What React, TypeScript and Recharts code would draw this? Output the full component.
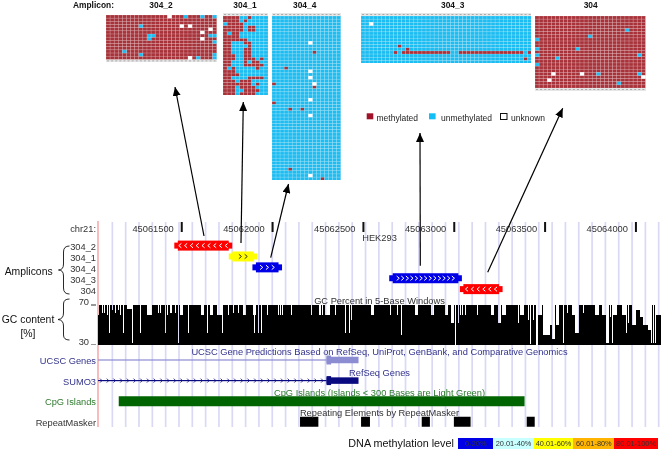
import {
  Bar,
  BarChart,
  LineChart,
  ReferenceLine,
  Scatter,
  ScatterChart,
  XAxis,
  YAxis,
} from "recharts";

const FONT = '"Liberation Sans", Arial, sans-serif';

// M = methylated, U = unmethylated, N = unknown
const amplicon304_2 = [
  "MMMMMMMMMMMMMMMNMMMUMMMUMMU",
  "MMMMMMMMMMMMMMMMMMMMMMMMMMM",
  "MMMMMMMMMMMMMMMMMMMMMMMMMMM",
  "MMMMMMMMUMMMMMMMMMNMNMMMMMM",
  "MMMMMMMMMMMMMMMMMMMMMMMMMNM",
  "MMMMMMMMMMMMMMMMMMMMMMMNMMM",
  "MMMMMMMMMMUUMMMMMMMMMMMMMUU",
  "MMMMMMMMMMUMMMMMMMMMMMMNMMM",
  "MMMMMMMMMMMMMMMMMMMMMMMMMMU",
  "MMMMMMMMMMMMMMMMMMMMMMMMMMM",
  "MMMMMMMMMMMMMMMMMMMMMMMMMMM",
  "MMMMUMMMMMMMMMMMMMMMMMMMMMM",
  "MMMMMMMMUMMMMMMMMMMMMMMMMMU",
  "MMMMMMMMMMMMMMMMMMMMNMUMMMU",
];

const amplicon304_1 = [
  "MMMMUUMUUUU",
  "MMMMUMUUUUU",
  "UMMMMUUUUUU",
  "MMMMMUMMUUU",
  "MMMMMUMMUUU",
  "MUMMUUUUUUU",
  "MMMMUUUUUUU",
  "MMMMMMUUUUU",
  "MMUUUMMUUUU",
  "MMUUUUMUUUU",
  "MMUUUMMUUUU",
  "MMUUUMMUUUU",
  "MMMUUMMUUUU",
  "MMMUUMMMUMU",
  "MMUUUMUMMUU",
  "MMUUUMMMMMU",
  "MUMUUUUUMUU",
  "MMMUUUUUUUU",
  "MMMMUUUUUUU",
  "MMUUUUMMMMU",
  "MMMUMMMUUUU",
  "MMMMMMMUMUU",
  "MMMUMMMMUUU",
  "MMMUUMMMMUU",
  "MMMUMMMMUUU",
];

const amplicon304_4 = [
  "UUUUUUUUUUUUUUUUU",
  "UUUUUUUUUUUUUUUUU",
  "UUUUUUUUUUUUUUUUU",
  "UUUUUUUUUUUUUUUUU",
  "UUUUUUUUUUUUUUUUU",
  "UUUUUUUUUUUUUUUUU",
  "UUUUUUUUUUUUUUUUU",
  "UUUUUUUUUUUUUUUUU",
  "UUUUUUUUUNUUUUUUU",
  "UUUUUUUUUUUUUUUUU",
  "UUUUUUUUUUUUUUUUU",
  "UUUUUUUUUUMUUUUUU",
  "UUUUUUUUUUUUUUUUU",
  "UUUUUUUUUUUUUUUUU",
  "UUUUUUUUUUUUUUUUU",
  "UUUUUUUUUUUUUUUUU",
  "UUUMUUUUUUUUUUUUU",
  "UUUUUUUUUNUUUUUUU",
  "UUUUUUUUUUUUUUUUU",
  "UUUUUUUUUNUUUUUUU",
  "UUUUUUUUUUUUUUUUU",
  "MUUUUUUUUUNUUUUUU",
  "UUUUUUUUUUMUUUUUU",
  "UUUUUUUUUUUUUUUUU",
  "UUUUUUUUUUUUUUUUU",
  "UUUUUUUUUUUUUUUUU",
  "UUUUUUUUUNUUUUUUU",
  "MUUUUUUUUUUUUUUUU",
  "UUUUUUUUUUUUUUUUU",
  "UUUUMUUMUUUUUUUUU",
  "UUUUUUUUUUUUUUUUU",
  "UUUUUUUUUNUUUUUUU",
  "UUUUUUUUUUUUUUUUU",
  "UUUUUUUUUUUUUUUUU",
  "UUUUUUUUUUUUUUUUU",
  "UUUUUUUUUUUUUUUUU",
  "UUUUUUUUUUUUUUUUU",
  "UUUUUUUUUUUUUUUUU",
  "UUUUUUUUUUUUUUUUU",
  "UUUUUUUUUUUUUUUUU",
  "UUUUUUUUUUUUUUUUU",
  "UUUUUUUUUUUUUUUUU",
  "UUUUUUUUUUUUUUUUU",
  "UUUUUUUUUUUUUUUUU",
  "UUUUUUUUUUUUUUUUU",
  "UUUUUUUUUUUUUUUUU",
  "UUUUUUUUUUUUUUUUU",
  "UUUUUUUUUUUUUUUUU",
  "UUUUMUUUUUUUUUUUU",
  "UUUUUUUUUUUUUUUUU",
  "UUUUUUUUUNUUUUUUU",
  "UUUUUUUUUUUUMUUUU",
];

const amplicon304_3 = [
  "UUUUUUUUUUUUUUUUUUUUUUUUUUUUUUUUUUUUUUUUUU",
  "UUUUUUUUUUUUUUUUUUUUUUUUUUUUUUUUUUUUUUUUUU",
  "UUNUUUUUUUUUUUUUUUUUUUUUUUUUUUUUUUUUUUUUUU",
  "UUUUUUUUUUUUUUUUUUUUUUUUUUUUUUUUUUUUUUUUUU",
  "UUUUUUUUUUUUUUUUUUUUUUUUUUUUUUUUUUUUUUUUUU",
  "UUUUUUUUUUUUUUUUUUUUUUUUUUUUUUUUUUUUUUUUUU",
  "UUUUUUUUUUUUUUUUUUUUUUUUUUUUUUUUUUUUUUUUUU",
  "UUUUUUUUUUUUUUUUUUUUUUUUUUUUUUUUUUUUUUUUUU",
  "UUUUUUUUUUUUUUUUUUUUUUUUUUUUUUUUUUUUUUUUUU",
  "UUUUUUUUUMUUUUUUUUUUUUUUUUUUUUUUUUUUUUUUUU",
  "UUUUUUUUUUUMUUUUUUUUUUUUUUUUUUUUUUUUUUUUUU",
  "UUUUUUUUMUMMMMMMMMMMMMUUMMMMMMMMMMMMMMMMUM",
  "UUUUUUUUUUUUUUUUUUUUUUUUUUUUUUUUUUUUUUUUUU",
  "UUUUUUUUUUUUUUUUUUUUUUUUUUUUUUUUUUUUUUUUMU",
  "UUUUUUUUUUUUUUUUUUUUUUUUUUUUUUUUUUUUUUUUUU",
];

const amplicon304 = [
  "MMMMMMMMMMMMMMMMMMMMMMMMMMM",
  "MMMMMMMMMMMMMMMMMMMMMMMMMMM",
  "MMMMMMMMMMMMMMMMMMMMMMMMMMM",
  "MMMMMMMMMMMMMMMMMMMMMMMMMMM",
  "MMMMMMMMMMMMMMMMMMMMMMUMMMM",
  "MMMMMMMMMMMMMMMMMMMMMMMMMMM",
  "MMMMMMMMMMMMMUMMMMMMMMMMMMM",
  "UMMMMMMMMMMMMMMMMMMMMMMMMMM",
  "MMMMMMMMMMMMMMMMMMMMMMMMMMM",
  "MMMMMMMMMMMMMMMMMMMMMMMMMMM",
  "UMMMMMMMMMUMMMMMMMMMMMMMMMM",
  "MMMMMMMMMMMMMMMMMMMMMMMMMMM",
  "UMMMMMMMMMMMMMMMMMMMMMMMMUM",
  "MMMMMUMMMMMMMMMMMMMMMMMMMMM",
  "MMMMMMMMMMMMMMMMMMMMMMMMMMM",
  "UMMMMMMMMMMMMMMMMMMMMMMMMMM",
  "MMMMMMMMMMMMMMMMMMMMMMMMMMM",
  "MMMMMMMMMMMMMMMMMMMMMMMMMMM",
  "MMMMNMMMMMMNMMMUMMMMMMMMMUM",
  "MMMMMMMMMMMMMMMMMMMMMMMMMMN",
  "MMMNMMMMMMMMMMMMMMMMMMMMMMM",
  "MMMMMMMMMMMMMMMMMMMMUMMMMMM",
  "MMMMMMMMMMMMMMMMMMMMMMMMMMM",
];

const genomeTicks = [45061500, 45062000, 45062500, 45063000, 45063500, 45064000];
const genomeDomain = [45061039, 45064138];
const guideStart = 45061118;
const guideStep = 73.35;

const ampliconNames = ["304_2", "304_1", "304_4", "304_3", "304"];
const ampliconRanges = [
  [45061459, 45061778],
  [45061759, 45061916],
  [45061889, 45062052],
  [45062642, 45063042],
  [45063031, 45063266],
];
const ampliconColors = ["#ff0000", "#ffff00", "#0000e6", "#0000e6", "#ff0000"];
const ampliconStrands = [-1, 1, 1, 1, -1];
const ampliconArrows = [9, 2, 3, 13, 6];

// first window, last window, value; every other window sits at the 70 ceiling
const gcDips = [
  [0, 0, 60], [4, 4, 62], [6, 6, 62], [9, 9, 60], [11, 11, 42], [14, 14, 65], [17, 17, 62],
  [20, 20, 65], [22, 22, 60], [25, 25, 42], [29, 33, 66], [34, 34, 32], [42, 42, 42],
  [49, 53, 60], [60, 60, 62], [62, 62, 62], [67, 67, 42], [69, 69, 60], [72, 73, 62],
  [77, 77, 62], [80, 80, 32], [82, 84, 60], [90, 90, 42], [103, 105, 60], [109, 109, 42],
  [112, 114, 60], [119, 123, 60], [124, 124, 42], [130, 130, 60], [135, 135, 62],
  [140, 140, 62], [145, 147, 60], [155, 155, 60], [156, 156, 42], [157, 157, 60],
  [160, 160, 42], [163, 163, 42], [169, 169, 60], [180, 180, 60], [182, 182, 60],
  [184, 184, 60], [193, 193, 60], [213, 213, 60], [221, 222, 60], [224, 224, 60],
  [227, 231, 60], [237, 237, 60], [247, 247, 42], [251, 251, 42], [253, 253, 55],
  [273, 275, 60], [292, 292, 60], [299, 299, 60], [303, 303, 40], [317, 319, 60],
  [333, 335, 60], [347, 349, 60], [353, 355, 52], [357, 357, 30], [360, 360, 52],
  [362, 362, 60], [364, 364, 60], [367, 367, 60], [379, 379, 60], [393, 395, 60],
  [400, 402, 52], [404, 407, 60], [420, 420, 52], [422, 425, 60], [430, 430, 55],
  [432, 432, 31], [435, 435, 55], [438, 439, 30], [440, 443, 60], [445, 451, 40],
  [452, 453, 50], [454, 456, 36], [458, 460, 50], [465, 465, 32], [469, 469, 62],
  [474, 476, 60], [477, 480, 42], [485, 485, 62], [497, 500, 60], [504, 507, 60],
  [508, 510, 32], [512, 512, 58], [514, 514, 32], [515, 518, 60], [524, 527, 60],
  [528, 528, 42], [530, 530, 52], [534, 537, 50], [538, 541, 65], [542, 544, 58],
  [545, 549, 50], [550, 552, 45], [553, 553, 32], [555, 555, 32], [557, 557, 32],
  [558, 562, 60],
];
const gcWindowCount = 563;
const gcTicks = [30, 70];

const trackNames = ["UCSC Genes", "SUMO3", "CpG Islands", "RepeatMasker"];
const trackLabelColors = ["#33338c", "#33338c", "#2f7a2f", "#333333"];
const geneIntrons = [[45061039, 45062297], [45061039, 45062297]];
const geneThickExons = [[45062297, 45062322], [45062297, 45062322]];
const geneExons = [[45062297, 45062473], [45062297, 45062473]];
const geneColors = ["#8c8cd2", "#0a0a80"];
const cpgIsland = [45061153, 45063387];
const repeatElements = [
  [45062151, 45062252],
  [45062487, 45062536],
  [45062821, 45062866],
  [45062998, 45063090],
  [45063399, 45063443],
];

const methylationLevels = ["0-20%", "20.01-40%", "40.01-60%", "60.01-80%", "80.01-100%"];
const methylationColors = ["#0000e6", "#c8ffff", "#ffff00", "#ffb400", "#ff0000"];
const methylationWidths = [35, 40.5, 39.5, 41, 43.5];

const panelTitles = [
  { name: "304_2", x: 161 },
  { name: "304_1", x: 245 },
  { name: "304_4", x: 304.7 },
  { name: "304_3", x: 452.7 },
  { name: "304", x: 590.7 },
];

const STATUS_COLORS: Record<string, string> = {
  M: "#a8323a",
  U: "#1cbdf2",
  N: "#ffffff",
};

const guides: number[] = [];
for (let g = guideStart; g < genomeDomain[1]; g += guideStep) guides.push(g);
const guideRows = guides.map((x) => ({ x, y: 0 }));

const ampliconRows = ampliconNames.map((name, i) => ({
  name,
  range: ampliconRanges[i],
  color: ampliconColors[i],
  strand: ampliconStrands[i],
  arrows: ampliconArrows[i],
}));

const gcRows = Array.from({ length: gcWindowCount }, (_, i) => {
  const dip = gcDips.find((d) => i >= d[0] && i <= d[1]);
  return { window: i, gc: dip ? dip[2] : 70 };
});

const trackRows = trackNames.map((track, i) => ({
  track,
  color: geneColors[i],
  hatched: i === 1,
  intron: geneIntrons[i],
  exon: geneExons[i],
  thick: geneThickExons[i],
  cpg: i === 2 ? cpgIsland : undefined,
  r0: i === 3 ? repeatElements[0] : undefined,
  r1: i === 3 ? repeatElements[1] : undefined,
  r2: i === 3 ? repeatElements[2] : undefined,
  r3: i === 3 ? repeatElements[3] : undefined,
  r4: i === 3 ? repeatElements[4] : undefined,
}));

function Heatmap(props: {
  rows: string[];
  left: number;
  top: number;
  width: number;
  height: number;
  strip: "top" | "bottom";
}) {
  const { rows, left, top, width, height, strip } = props;
  const cols = rows[0].length;
  const cellW = width / cols;
  const cellH = height / rows.length;
  const cells = (status: string) =>
    rows.flatMap((row, y) =>
      row
        .split("")
        .map((c, x) => ({ c, x: x + 0.5, y: y + 0.5 }))
        .filter((d) => d.c === status),
    );
  const columns = Array.from({ length: cols }, (_, i) => i + 0.5);
  const cellShape = (p: any) => (
    <rect
      x={p.cx - cellW / 2}
      y={p.cy - cellH / 2}
      width={cellW}
      height={cellH}
      fill={p.fill}
      stroke="#ffffff"
      strokeOpacity={0.3}
      strokeWidth={0.5}
    />
  );
  const stripTick = (p: any) => (
    <rect x={p.x - 1} y={strip === "top" ? 1 : height + 1} width={2} height={1} fill="#aaaaaa" />
  );
  return (
    <div
      style={{
        position: "absolute",
        left,
        top: strip === "top" ? top - 3 : top,
        width,
        height: height + 3,
        background: "#e6e6e6",
      }}
    >
      <ScatterChart
        width={width}
        height={height + 3}
        margin={{ top: 0, right: 0, bottom: 0, left: 0 }}
      >
        <XAxis
          type="number"
          dataKey="x"
          domain={[0, cols]}
          orientation={strip}
          height={3}
          ticks={columns}
          interval={0}
          axisLine={false}
          tickLine={false}
          tick={stripTick}
        />
        <YAxis type="number" dataKey="y" domain={[0, rows.length]} reversed hide />
        {["M", "U", "N"].map((status) => (
          <Scatter
            key={status}
            data={cells(status)}
            fill={STATUS_COLORS[status]}
            shape={cellShape}
            isAnimationActive={false}
          />
        ))}
      </ScatterChart>
    </div>
  );
}

function AmpliconShape(p: any) {
  const { x, y, width, height, payload } = p;
  const cy = y + height / 2;
  const cap = 3.5;
  const spacing = width > 60 ? (width - 12) / (payload.arrows + 0.2) : 5.8;
  const start = x + width / 2 - (spacing * (payload.arrows - 1)) / 2;
  const ink = payload.color === "#ffff00" ? "#333300" : "#ffffff";
  return (
    <g>
      <rect x={x} y={cy - 3} width={width} height={6} fill={payload.color} />
      <rect x={x + cap} y={cy - 5} width={width - cap * 2} height={10} fill={payload.color} />
      {Array.from({ length: payload.arrows }, (_, i) => {
        const ax = start + i * spacing;
        const d = payload.strand * 1.3;
        return (
          <path
            key={i}
            d={`M${ax - d} ${cy - 2.2}L${ax + d} ${cy}L${ax - d} ${cy + 2.2}`}
            fill="none"
            stroke={ink}
            strokeWidth={1}
          />
        );
      })}
    </g>
  );
}

function GenomeTick(p: any) {
  return (
    <g>
      <text x={p.x - 8} y={14} textAnchor="end" fontSize={9.3} fontFamily={FONT} fill="#333333">
        {p.payload.value}
      </text>
      <rect x={p.x - 1} y={4} width={2} height={10} fill="#111111" />
    </g>
  );
}

function GcTick(p: any) {
  return (
    <g>
      <text x={89} y={p.y - 0.5} textAnchor="end" fontSize={9.3} fontFamily={FONT} fill="#333333">
        {p.payload.value}
      </text>
      <rect x={91} y={p.y - 0.5} width={5} height={1} fill="#333333" />
    </g>
  );
}

function TrackTick(p: any) {
  const i = trackNames.indexOf(p.payload.value);
  return (
    <text
      x={96}
      y={p.y + 4}
      textAnchor="end"
      fontSize={9.3}
      fontFamily={FONT}
      fill={trackLabelColors[i]}
    >
      {p.payload.value}
    </text>
  );
}

function IntronShape(p: any) {
  const { x, y, width, height, payload } = p;
  if (!width) return null;
  const cy = y + height / 2;
  const marks: number[] = [];
  if (payload.hatched) for (let m = x + 3; m < x + width; m += 6.7) marks.push(m);
  return (
    <g>
      <rect x={x} y={cy - 0.6} width={width} height={1.2} fill={payload.color} />
      {marks.map((m) => (
        <path
          key={m}
          d={`M${m - 1} ${cy - 2}L${m + 1} ${cy}L${m - 1} ${cy + 2}`}
          fill="none"
          stroke={payload.color}
          strokeWidth={0.8}
        />
      ))}
    </g>
  );
}

function BlockShape(size: number) {
  return (p: any) => {
    const { x, y, width, height, payload } = p;
    if (!width) return null;
    const cy = y + height / 2;
    return <rect x={x} y={cy - size / 2} width={width} height={size} fill={payload.color} />;
  };
}

const textStyle = { fontFamily: FONT, fontSize: 9.3 };

function Overlay() {
  const arrows = [
    [204, 236, 175, 87],
    [241, 243, 243.3, 102],
    [270.7, 257.7, 288.5, 184],
    [420.3, 265.7, 420, 133],
    [487.7, 272.3, 562.7, 108.3],
  ];
  return (
    <svg
      width={661}
      height={450}
      style={{ position: "absolute", left: 0, top: 0, pointerEvents: "none" }}
    >
      <defs>
        <marker id="head" markerUnits="userSpaceOnUse" markerWidth={10} markerHeight={8} refX={9} refY={4} orient="auto">
          <path d="M0 0L9 4L0 8Z" fill="#000000" />
        </marker>
      </defs>
      {arrows.map((a) => (
        <line key={a[0]} x1={a[0]} y1={a[1]} x2={a[2]} y2={a[3]} stroke="#000000" strokeWidth={1.2} markerEnd="url(#head)" />
      ))}
      <text x={73} y={8} fontFamily={FONT} fontSize={8.4} fontWeight="bold" fill="#111111">
        Amplicon:
      </text>
      {panelTitles.map((t) => (
        <text key={t.name} x={t.x} y={8} textAnchor="middle" fontFamily={FONT} fontSize={8.4} fontWeight="bold" fill="#111111">
          {t.name}
        </text>
      ))}

      <rect x={366.7} y={113.3} width={6.6} height={6} fill="#a0122a" />
      <text x={376.5} y={121} fontFamily={FONT} fontSize={8.5} fill="#222222">methylated</text>
      <rect x={429} y={113.3} width={6.6} height={6} fill="#10bff5" />
      <text x={441} y={121} fontFamily={FONT} fontSize={8.5} fill="#222222">unmethylated</text>
      <rect x={500.5} y={113.5} width={6.5} height={6} fill="#ffffff" stroke="#111111" strokeWidth={1} />
      <text x={511} y={121} fontFamily={FONT} fontSize={8.5} fill="#222222">unknown</text>

      <text x={96} y={231.5} textAnchor="end" {...textStyle} fill="#333333">chr21:</text>
      <text x={379.5} y={241} textAnchor="middle" {...textStyle} fill="#333333">HEK293</text>
      <text x={379.5} y={304} textAnchor="middle" {...textStyle} fill="#333333">GC Percent in 5-Base Windows</text>
      <text x={379.5} y={354.5} textAnchor="middle" {...textStyle} fill="#33338c">
        UCSC Gene Predictions Based on RefSeq, UniProt, GenBank, and Comparative Genomics
      </text>
      <text x={379.5} y={375.5} textAnchor="middle" {...textStyle} fill="#33338c">RefSeq Genes</text>
      <text x={379.5} y={395.5} textAnchor="middle" {...textStyle} fill="#2f7a2f">
        CpG Islands (Islands {"<"} 300 Bases are Light Green)
      </text>
      <text x={379.5} y={416} textAnchor="middle" {...textStyle} fill="#333333">
        Repeating Elements by RepeatMasker
      </text>

      <text x={4.7} y={275} fontFamily={FONT} fontSize={10.4} fill="#111111">Amplicons</text>
      <text x={28} y={322.5} textAnchor="middle" fontFamily={FONT} fontSize={10.4} fill="#111111">GC content</text>
      <text x={28} y={336.5} textAnchor="middle" fontFamily={FONT} fontSize={10.4} fill="#111111">[%]</text>
      <path
        d="M69.5 246Q63.5 246 63.5 252L63.5 264Q63.5 270 58.5 270Q63.5 270 63.5 276L63.5 288Q63.5 294 69.5 294"
        fill="none"
        stroke="#111111"
        strokeWidth={0.9}
      />
      <path
        d="M69.5 299Q63.5 299 63.5 304L63.5 313Q63.5 319 58 319.5Q63.5 320 63.5 326L63.5 335Q63.5 340 69.5 340"
        fill="none"
        stroke="#111111"
        strokeWidth={0.9}
      />
      <text x={348.3} y={447} fontFamily={FONT} fontSize={10.8} fill="#111111">DNA methylation level</text>
    </svg>
  );
}

export default function App() {
  return (
    <div
      style={{
        position: "absolute",
        left: 0,
        top: 0,
        width: 661,
        height: 450,
        background: "#ffffff",
        overflow: "hidden",
        filter: "blur(0.35px)",
      }}
    >
      <Heatmap rows={amplicon304_2} left={106} top={15} width={110.7} height={44.4} strip="bottom" />
      <Heatmap rows={amplicon304_1} left={223} top={15.7} width={45} height={79.3} strip="top" />
      <Heatmap rows={amplicon304_4} left={272} top={15.7} width={68.7} height={164.3} strip="top" />
      <Heatmap rows={amplicon304_3} left={360.7} top={15.7} width={170.7} height={47.6} strip="top" />
      <Heatmap rows={amplicon304} left={535.3} top={15.7} width={110.4} height={72} strip="bottom" />

      <div style={{ position: "absolute", left: 0, top: 222 }}>
        <LineChart width={661} height={205} data={guideRows} margin={{ top: 0, right: 0, bottom: 0, left: 98 }}>
          <XAxis type="number" dataKey="x" domain={genomeDomain} allowDataOverflow hide />
          <YAxis hide dataKey="y" domain={[0, 1]} />
          {guides.map((g) => (
            <ReferenceLine key={g} x={g} stroke="#d9d9f6" strokeWidth={1.7} />
          ))}
        </LineChart>
      </div>
      <div style={{ position: "absolute", left: 97, top: 221, width: 2.4, height: 206, background: "#f9bcbc" }} />

      <div style={{ position: "absolute", left: 0, top: 218 }}>
        <BarChart
          width={661}
          height={77}
          layout="vertical"
          data={ampliconRows}
          barSize={10}
          margin={{ top: 0, right: 0, bottom: 0, left: 0 }}
        >
          <XAxis
            type="number"
            orientation="top"
            domain={genomeDomain}
            allowDataOverflow
            ticks={genomeTicks}
            interval={0}
            height={22.6}
            axisLine={false}
            tickLine={false}
            tick={GenomeTick}
          />
          <YAxis
            type="category"
            dataKey="name"
            width={98}
            interval={0}
            axisLine={false}
            tickLine={false}
            tickSize={0}
            tickMargin={2}
            tick={{ fontSize: 9.3, fontFamily: FONT, fill: "#333333", dy: 1 }}
          />
          <Bar dataKey="range" shape={AmpliconShape} isAnimationActive={false} />
        </BarChart>
      </div>

      <div style={{ position: "absolute", left: 0, top: 295 }}>
        <BarChart
          width={661}
          height={50}
          data={gcRows}
          barCategoryGap={0}
          margin={{ top: 10, right: 0, bottom: 0, left: 0 }}
        >
          <XAxis dataKey="window" hide />
          <YAxis
            type="number"
            domain={[30, 70]}
            ticks={gcTicks}
            interval={0}
            width={98}
            axisLine={false}
            tickLine={false}
            tick={GcTick}
          />
          <Bar dataKey="gc" fill="#000000" isAnimationActive={false} />
        </BarChart>
      </div>

      <div style={{ position: "absolute", left: 0, top: 349.7 }}>
        <BarChart
          width={661}
          height={82.4}
          layout="vertical"
          data={trackRows}
          barSize={10}
          barGap={-10}
          margin={{ top: 0, right: 0, bottom: 0, left: 0 }}
        >
          <XAxis type="number" domain={genomeDomain} allowDataOverflow hide />
          <YAxis
            type="category"
            dataKey="track"
            width={98}
            interval={0}
            axisLine={false}
            tickLine={false}
            tick={TrackTick}
          />
          <Bar dataKey="intron" shape={IntronShape} isAnimationActive={false} />
          <Bar dataKey="exon" shape={BlockShape(6.5)} isAnimationActive={false} />
          <Bar dataKey="thick" shape={BlockShape(9)} isAnimationActive={false} />
          <Bar dataKey="cpg" fill="#006400" isAnimationActive={false} />
          {["r0", "r1", "r2", "r3", "r4"].map((k) => (
            <Bar key={k} dataKey={k} fill="#000000" isAnimationActive={false} />
          ))}
        </BarChart>
      </div>

      <Overlay />

      <div
        style={{
          position: "absolute",
          left: 458.3,
          top: 437.7,
          height: 11,
          display: "flex",
          fontFamily: FONT,
          fontSize: 7.4,
          lineHeight: "11px",
          textAlign: "center",
          color: "#333333",
        }}
      >
        {methylationLevels.map((level, i) => (
          <div key={level} style={{ width: methylationWidths[i], background: methylationColors[i] }}>
            {level}
          </div>
        ))}
      </div>
    </div>
  );
}
